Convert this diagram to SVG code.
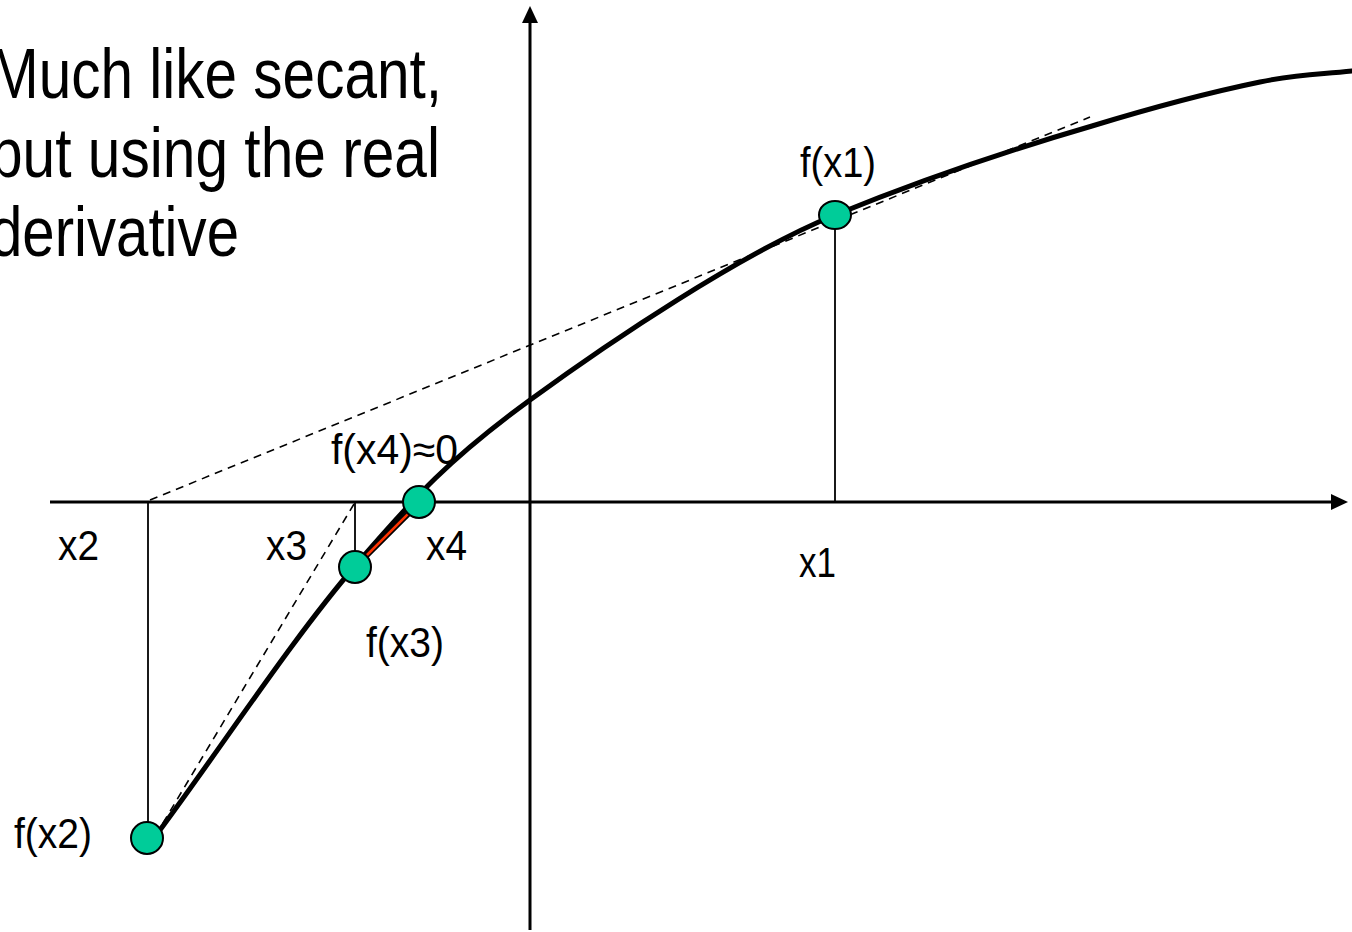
<svg xmlns="http://www.w3.org/2000/svg" width="1352" height="932" viewBox="0 0 1352 932">
<style>
.big{font-family:"Liberation Sans",Arial,sans-serif;font-size:70px;fill:#000}
.lbl{font-family:"Liberation Sans",Arial,sans-serif;font-size:42px;fill:#000}
.axis{stroke:#000;stroke-width:3;fill:none}
.thin{stroke:#000;stroke-width:1.8;fill:none}
.dash{stroke:#000;stroke-width:1.6;fill:none;stroke-dasharray:8 6}
.curve{stroke:#000;stroke-width:5;fill:none;stroke-linecap:round}
.pt{fill:#00CC99;stroke:#000;stroke-width:2}
</style>
<rect width="1352" height="932" fill="#fff"/>
<g id="title">
<text class="big" x="-10" y="98" textLength="452" lengthAdjust="spacingAndGlyphs">Much like secant,</text>
<text class="big" x="-10" y="177" textLength="450" lengthAdjust="spacingAndGlyphs">but using the real</text>
<text class="big" x="-10" y="256" textLength="249" lengthAdjust="spacingAndGlyphs">derivative</text>
</g>
<g id="connectors">
<line class="axis" x1="50" y1="502" x2="1333" y2="502"/>
<polygon points="1348,502 1331,494 1331,510" fill="#000"/>
<line class="axis" x1="530" y1="930" x2="530" y2="22"/>
<polygon points="530,6 522,23 538,23" fill="#000"/>
<line class="dash" x1="150" y1="500" x2="1090" y2="117"/>
<line class="dash" x1="354" y1="504" x2="160" y2="828"/>
<line class="thin" x1="148" y1="502" x2="148" y2="838"/>
<line class="thin" x1="355" y1="502" x2="355" y2="566"/>
<line class="thin" x1="835" y1="215" x2="835" y2="502"/>
<path class="curve" d="M160,830 C225,742 293.3,637.7 355,566 C416.7,494.3 450,458.5 530,400 C610,341.5 741.7,253 835,215 C928,177.1 1019.2,147.2 1092,126 C1160.8,105 1216.3,91 1260,82 C1303.7,73 1321.3,74.7 1352,71"/>
<line x1="355" y1="567" x2="419" y2="503" stroke="#000" stroke-width="6"/>
<line x1="355" y1="567" x2="419" y2="503" stroke="#FF3300" stroke-width="2.5"/>
</g>
<g id="p-x2">
<circle class="pt" cx="147" cy="838" r="16"/>
<text class="lbl" x="58" y="560" textLength="41" lengthAdjust="spacingAndGlyphs">x2</text>
<text class="lbl" x="14" y="848" textLength="78" lengthAdjust="spacingAndGlyphs">f(x2)</text>
</g>
<g id="p-x3">
<circle class="pt" cx="355" cy="567" r="16"/>
<text class="lbl" x="266" y="560" textLength="41" lengthAdjust="spacingAndGlyphs">x3</text>
<text class="lbl" x="366" y="657" textLength="78" lengthAdjust="spacingAndGlyphs">f(x3)</text>
</g>
<g id="p-x4">
<circle class="pt" cx="419" cy="502" r="16"/>
<text class="lbl" x="426" y="560" textLength="41" lengthAdjust="spacingAndGlyphs">x4</text>
<text class="lbl" x="331" y="464" textLength="127" lengthAdjust="spacingAndGlyphs">f(x4)≈0</text>
</g>
<g id="p-x1">
<ellipse class="pt" cx="835" cy="215" rx="16" ry="14"/>
<text class="lbl" x="799" y="577" textLength="37" lengthAdjust="spacingAndGlyphs">x1</text>
<text class="lbl" x="800" y="177" textLength="76" lengthAdjust="spacingAndGlyphs">f(x1)</text>
</g>
</svg>
